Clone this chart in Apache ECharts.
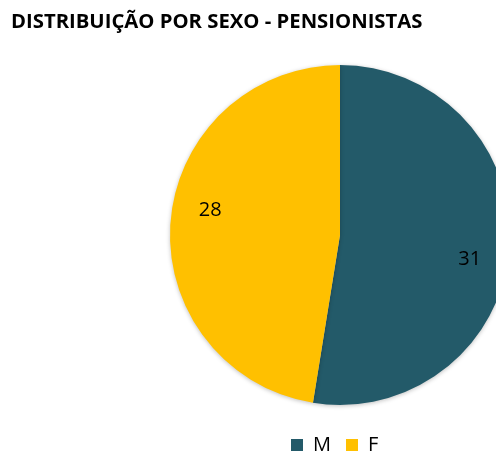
<!DOCTYPE html>
<html>
<head>
<meta charset="utf-8">
<script src="https://cdn.jsdelivr.net/npm/echarts@6/dist/echarts.min.js"></script>
<style>
  html, body { margin: 0; padding: 0; background: #fff; }
  #chart { width: 496px; height: 461px; }
</style>
</head>
<body>
<div id="chart"></div>
<script>
// data
const categories = ['M', 'F'];
const values = [31, 28];
const colors = ['#235A69', '#FFC000'];

const chart = echarts.init(document.getElementById('chart'));

const pieData = categories.map((name, i) => ({
  name: name,
  value: values[i],
  itemStyle: { color: colors[i] }
}));

chart.setOption({
  animation: false,
  title: {
    text: 'DISTRIBUIÇÃO POR SEXO - PENSIONISTAS',
    left: 6,
    top: 7,
    textStyle: {
      fontFamily: 'Open Sans',
      fontWeight: 'bold',
      fontSize: 20.3,
      color: '#000'
    }
  },
  legend: {
    bottom: 1,
    left: 286,
    itemWidth: 12,
    itemHeight: 12,
    itemGap: 15,
    icon: 'rect',
    textStyle: { fontFamily: 'Open Sans', fontSize: 20, color: '#000', padding: [0, 0, 0, 5] },
    data: categories
  },
  series: [
    {
      // slices
      type: 'pie',
      center: [340, 235],
      radius: [0, 170],
      startAngle: 90,
      clockwise: true,
      silent: true,
      label: { show: false },
      labelLine: { show: false },
      itemStyle: { shadowBlur: 4, shadowColor: 'rgba(0,0,0,0.25)', shadowOffsetY: 1 },
      data: pieData
    },
    {
      // labels only, placed further out (excel "best fit" look)
      type: 'pie',
      center: [340, 235],
      radius: [0, 258],
      startAngle: 84,
      clockwise: true,
      silent: true,
      itemStyle: { color: 'transparent' },
      label: {
        show: true,
        position: 'inside',
        formatter: '{c}',
        fontFamily: 'Open Sans',
        fontSize: 20,
        color: '#000'
      },
      labelLine: { show: false },
      data: categories.map((name, i) => ({ name: name, value: values[i] }))
    }
  ]
});
</script>
</body>
</html>
